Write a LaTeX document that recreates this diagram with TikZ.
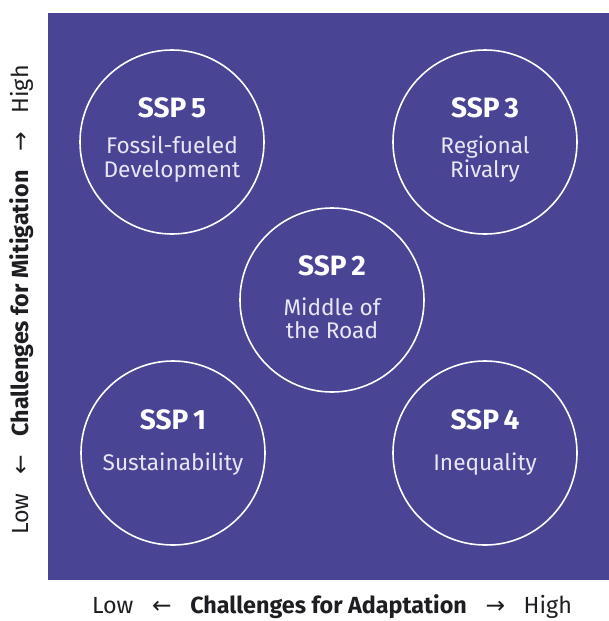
\documentclass[tikz,border=0pt]{standalone}
\usepackage{fontspec}
\setmainfont{Fira Sans}
\newfontfamily\arrowfont{DejaVu Sans}
\usetikzlibrary{positioning}

\definecolor{sspblue}{RGB}{74,68,148}
\definecolor{axisgray}{RGB}{30,30,34}
\definecolor{desctext}{RGB}{232,230,244}

\newcommand{\larr}{{\arrowfont\char"2190}}
\newcommand{\rarr}{{\arrowfont\char"2192}}

\begin{document}
\begin{tikzpicture}[x=0.75pt,y=0.75pt,yscale=-1,xscale=1,
  sspcirc/.style={circle,draw=white,line width=1.2pt,minimum size=138pt,inner sep=0pt},
  ssptitle/.style={text=white,font=\bfseries\fontsize{21}{24}\selectfont,inner sep=0pt},
  sspdesc/.style={text=desctext,font=\fontsize{17}{17.5}\selectfont,align=center,inner sep=0pt},
  axislabel/.style={text=axisgray,font=\fontsize{17.5}{20}\selectfont,inner sep=0pt}]
  \useasboundingbox (0,0) rectangle (609,621);

  % Background square
  \fill [sspblue] (48,13) rectangle (609,580);

  % Circles
  \node [sspcirc] (ssp5) at (172,142) {};
  \node [sspcirc] (ssp3) at (485,142) {};
  \node [sspcirc] (ssp2) at (332,300) {};
  \node [sspcirc] (ssp1) at (173,453) {};
  \node [sspcirc] (ssp4) at (485,453) {};

  % Text Node
  \node [ssptitle] (ssp5title) at (172,108) {SSP\,5};
  \node [sspdesc] (ssp5desc) at (172,159) {Fossil-fueled\\Development};
  % Text Node
  \node [ssptitle] (ssp3title) at (485,108) {SSP\,3};
  \node [sspdesc] (ssp3desc) at (485,159) {Regional\\Rivalry};
  % Text Node
  \node [ssptitle] (ssp2title) at (332,266) {SSP\,2};
  \node [sspdesc] (ssp2desc) at (332,318) {Middle of\\the Road};
  % Text Node
  \node [ssptitle] (ssp1title) at (173,420) {SSP\,1};
  \node [sspdesc] (ssp1desc) at (173,464) {Sustainability};
  % Text Node
  \node [ssptitle] (ssp4title) at (485,420) {SSP\,4};
  \node [sspdesc] (ssp4desc) at (485,464) {Inequality};

  % Axis labels
  \node [axislabel] (adapt) at (332,607)
    {Low\hspace{14pt}\larr\hspace{14pt}\textbf{Challenges for Adaptation}\hspace{14pt}\rarr\hspace{14pt}High};
  \node [axislabel,rotate=90] (mitig) at (22,300)
    {Low\hspace{14pt}\larr\hspace{14pt}\textbf{Challenges for Mitigation}\hspace{14pt}\rarr\hspace{14pt}High};
\end{tikzpicture}
\end{document}
